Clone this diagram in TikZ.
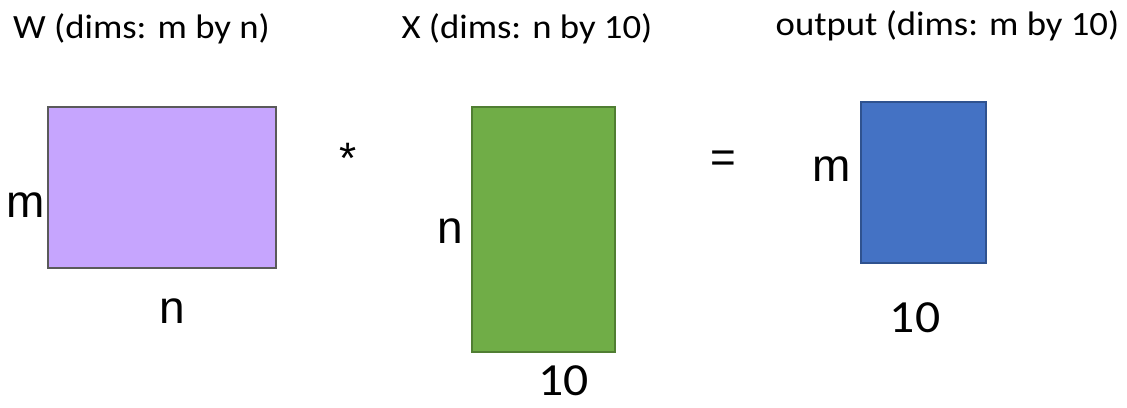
\documentclass[tikz,border=0pt]{standalone}
\usepackage{fontspec}
\setmainfont{Carlito}[FakeStretch=1.08]
\newfontfamily\lblfont{Liberation Sans}
\definecolor{wfill}{HTML}{C6A5FE}
\definecolor{wdraw}{HTML}{5A5A5A}
\definecolor{xfill}{HTML}{70AD47}
\definecolor{xdraw}{HTML}{507E32}
\definecolor{ofill}{HTML}{4472C4}
\definecolor{odraw}{HTML}{2F528F}
\tikzset{
  titletext/.style={font=\fontsize{34}{38}\selectfont, inner sep=0pt, anchor=base},
  dimtext/.style={font=\fontsize{46}{50}\selectfont, inner sep=0pt, anchor=base},
  lbltext/.style={font=\lblfont\fontsize{46}{50}\selectfont, inner sep=0pt, anchor=base},
  optext/.style={font=\lblfont\fontsize{44}{48}\selectfont, inner sep=0pt},
  matbox/.style={rectangle, inner sep=0pt, line width=2pt},
}
\begin{document}
\begin{tikzpicture}[x=1pt,y=-1pt]
\useasboundingbox (0,0) rectangle (1127,407);
% titles
\node[titletext] (tw) at (141.5,38) {W (dims: m by n)};
\node[titletext] (tx) at (527,38) {X (dims: n by 10)};
\node[titletext] (to) at (947.5,35) {output (dims: m by 10)};
% matrices
\node[matbox, fill=wfill, draw=wdraw, minimum width=228pt, minimum height=161pt] (W) at (162,187.5) {};
\node[matbox, fill=xfill, draw=xdraw, minimum width=143pt, minimum height=245pt] (X) at (543.5,229) {};
\node[matbox, fill=ofill, draw=odraw, minimum width=125pt, minimum height=161pt] (O) at (923.5,182.5) {};
% dimension labels
\node[lbltext] (wm) at (26,217) {m};
\node[lbltext] (wn) at (172,323) {n};
\node[lbltext] (xn) at (450,243) {n};
\node[dimtext] (x10) at (563.5,395) {10};
\node[lbltext] (om) at (832,181) {m};
\node[dimtext] (o10) at (915,332) {10};
% operators
\node[optext] (times) at (348,158) {*};
\node[optext] (eq) at (723,162) {=};
\end{tikzpicture}
\end{document}
